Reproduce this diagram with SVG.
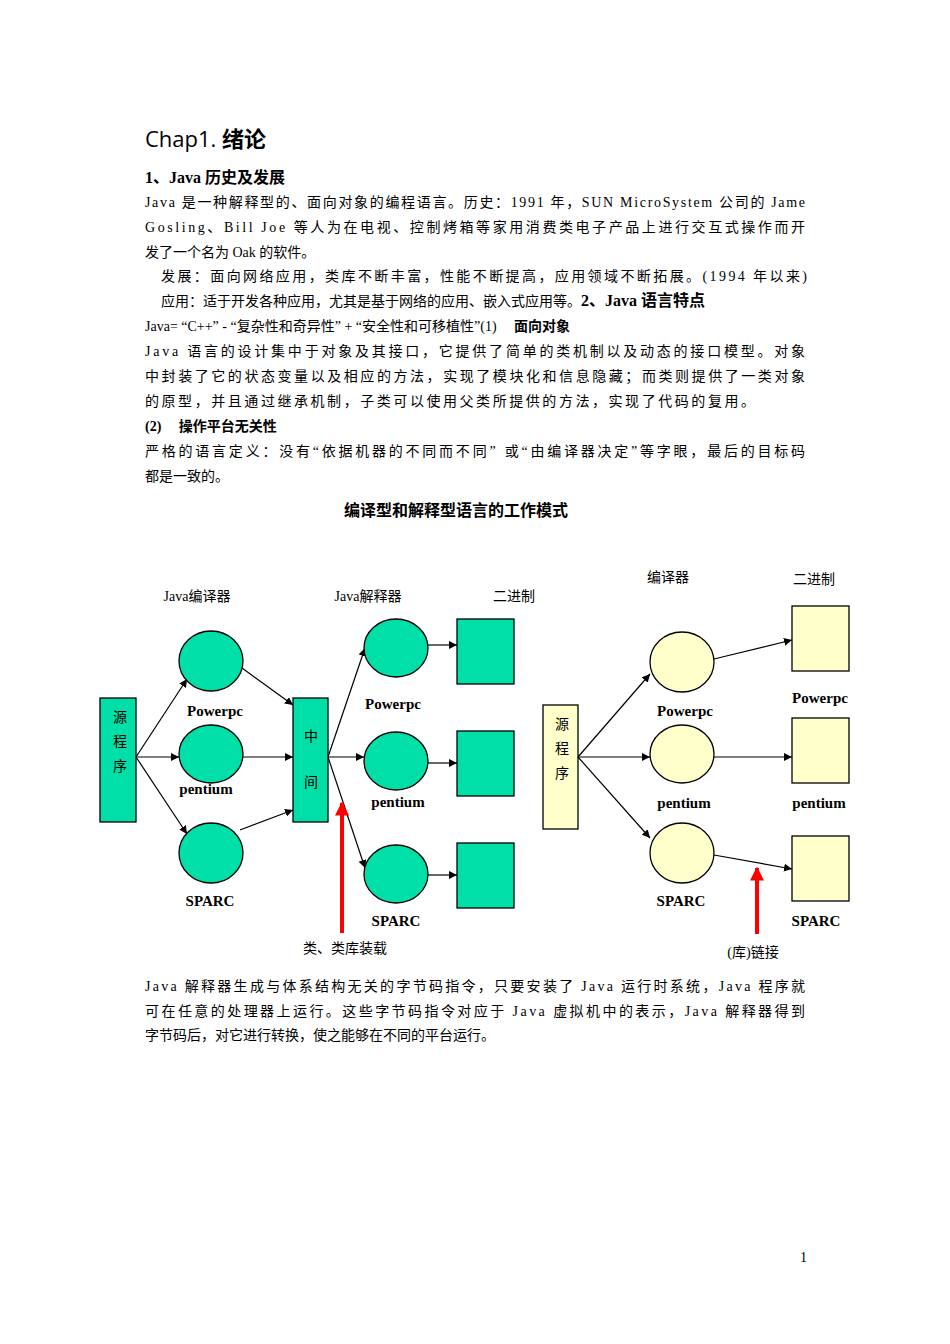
<svg xmlns="http://www.w3.org/2000/svg" width="950" height="1344" viewBox="0 0 950 1344">
<style>
.t{font-family:"Liberation Serif","Noto Sans CJK SC",serif;font-size:14px;fill:#000}
.b{font-family:"Liberation Serif","Noto Sans CJK SC",serif;font-size:16px;font-weight:bold;fill:#000}
.l{font-family:"Liberation Serif",serif;font-size:15px;font-weight:bold;fill:#000;text-anchor:middle}
.c{font-family:"Liberation Serif","Noto Sans CJK SC",serif;font-size:14px;fill:#000;text-anchor:middle}
.g{fill:#00DFA8;stroke:#000;stroke-width:1.3}
.y{fill:#FFFFCC;stroke:#000;stroke-width:1.3}
.e{stroke:#000;stroke-width:1.2;fill:none;marker-end:url(#a)}
.r{stroke:#F00;stroke-width:4;fill:none;marker-end:url(#ra)}
</style>
<defs>
<marker id="a" viewBox="0 0 10 10" refX="10" refY="5" markerWidth="8" markerHeight="8" markerUnits="userSpaceOnUse" orient="auto"><path d="M0,0L10,5L0,10z" fill="#000"/></marker>
<marker id="ra" viewBox="0 0 10 10" refX="9" refY="5" markerWidth="4" markerHeight="3.5" orient="auto"><path d="M0,0L10,5L0,10z" fill="#F00"/></marker>
</defs>
<rect width="950" height="1344" fill="#fff"/>
<text x="145" y="147" font-family="Open Sans,Noto Sans CJK SC,sans-serif" font-size="22" fill="#000">Chap1. <tspan font-weight="bold">绪论</tspan></text>
<text class="b" x="145" y="183">1、Java 历史及发展</text>
<text class="t" x="145" y="207" textLength="660">Java 是一种解释型的、面向对象的编程语言。历史：1991 年，SUN MicroSystem 公司的 Jame</text>
<text class="t" x="145" y="232" textLength="660">Gosling、Bill Joe 等人为在电视、控制烤箱等家用消费类电子产品上进行交互式操作而开</text>
<text class="t" x="145" y="257">发了一个名为 Oak 的软件。</text>
<text class="t" x="161" y="281" textLength="646">发展：面向网络应用，类库不断丰富，性能不断提高，应用领域不断拓展。(1994 年以来)</text>
<text class="t" x="161" y="306">应用：适于开发各种应用，尤其是基于网络的应用、嵌入式应用等。<tspan class="b">2、Java 语言特点</tspan></text>
<text class="t" x="145" y="331">Java= “C++” - “复杂性和奇异性” + “安全性和可移植性”(1)　 <tspan font-weight="bold">面向对象</tspan></text>
<text class="t" x="145" y="356" textLength="660">Java 语言的设计集中于对象及其接口，它提供了简单的类机制以及动态的接口模型。对象</text>
<text class="t" x="145" y="381" textLength="660">中封装了它的状态变量以及相应的方法，实现了模块化和信息隐藏；而类则提供了一类对象</text>
<text class="t" x="145" y="406" textLength="610">的原型，并且通过继承机制，子类可以使用父类所提供的方法，实现了代码的复用。</text>
<text class="t" x="145" y="431" font-weight="bold">(2)　 操作平台无关性</text>
<text class="t" x="145" y="456" textLength="660">严格的语言定义：没有“依据机器的不同而不同” 或“由编译器决定”等字眼，最后的目标码</text>
<text class="t" x="145" y="481">都是一致的。</text>
<text class="b" x="456" y="516" text-anchor="middle">编译型和解释型语言的工作模式</text>

<g id="connectors">
<line class="e" x1="136" y1="757" x2="187" y2="679"/>
<line class="e" x1="136" y1="757" x2="179" y2="757"/>
<line class="e" x1="136" y1="757" x2="187" y2="834"/>
<line class="e" x1="242" y1="668" x2="293" y2="705"/>
<line class="e" x1="243" y1="757" x2="293" y2="757"/>
<line class="e" x1="240" y1="830" x2="293" y2="810"/>
<line class="e" x1="328" y1="757" x2="365" y2="648"/>
<line class="e" x1="328" y1="757" x2="364" y2="757"/>
<line class="e" x1="328" y1="757" x2="365" y2="868"/>
<line class="e" x1="428" y1="645" x2="457" y2="645"/>
<line class="e" x1="428" y1="763" x2="457" y2="763"/>
<line class="e" x1="428" y1="875" x2="457" y2="875"/>
<line class="e" x1="578" y1="757" x2="650" y2="674"/>
<line class="e" x1="578" y1="757" x2="650" y2="757"/>
<line class="e" x1="578" y1="757" x2="650" y2="838"/>
<line class="e" x1="714" y1="659" x2="792" y2="640"/>
<line class="e" x1="714" y1="757" x2="792" y2="757"/>
<line class="e" x1="714" y1="855" x2="792" y2="869"/>
<line class="r" x1="342" y1="933" x2="342" y2="803"/>
<line class="r" x1="757" y1="934" x2="757" y2="868"/>
</g>

<g id="left-src"><rect class="g" x="100" y="698" width="36" height="124"/><text class="c" x="120" y="722">源</text><text class="c" x="120" y="746">程</text><text class="c" x="120" y="771">序</text></g>
<g id="mid"><rect class="g" x="293" y="698" width="35" height="124"/><text class="c" x="311" y="741">中</text><text class="c" x="311" y="787">间</text></g>
<g id="c1"><ellipse class="g" cx="211" cy="661" rx="32" ry="30"/><text class="l" x="215" y="716">Powerpc</text></g>
<g id="c2"><ellipse class="g" cx="211" cy="754" rx="32" ry="29"/><text class="l" x="206" y="794">pentium</text></g>
<g id="c3"><ellipse class="g" cx="211" cy="853" rx="32" ry="30"/><text class="l" x="210" y="906">SPARC</text></g>
<g id="c4"><ellipse class="g" cx="396" cy="648" rx="32" ry="29"/><text class="l" x="393" y="709">Powerpc</text></g>
<g id="c5"><ellipse class="g" cx="396" cy="761" rx="32" ry="29"/><text class="l" x="398" y="807">pentium</text></g>
<g id="c6"><ellipse class="g" cx="396" cy="874" rx="32" ry="29"/><text class="l" x="396" y="926">SPARC</text></g>
<g id="s1"><rect class="g" x="457" y="619" width="57" height="65"/></g>
<g id="s2"><rect class="g" x="457" y="731" width="57" height="65"/></g>
<g id="s3"><rect class="g" x="457" y="843" width="57" height="65"/></g>
<text class="c" x="197" y="601">Java编译器</text>
<text class="c" x="368" y="601">Java解释器</text>
<text class="c" x="514" y="601">二进制</text>
<text class="c" x="345" y="953">类、类库装载</text>

<g id="right-src"><rect class="y" x="543" y="705" width="35" height="124"/><text class="c" x="562" y="729">源</text><text class="c" x="562" y="753">程</text><text class="c" x="562" y="778">序</text></g>
<g id="d1"><ellipse class="y" cx="682" cy="662" rx="32" ry="30"/><text class="l" x="685" y="716">Powerpc</text></g>
<g id="d2"><ellipse class="y" cx="682" cy="754" rx="32" ry="29"/><text class="l" x="684" y="808">pentium</text></g>
<g id="d3"><ellipse class="y" cx="682" cy="853" rx="32" ry="30"/><text class="l" x="681" y="906">SPARC</text></g>
<g id="q1"><rect class="y" x="792" y="606" width="57" height="65"/><text class="l" x="820" y="703">Powerpc</text></g>
<g id="q2"><rect class="y" x="792" y="718" width="57" height="65"/><text class="l" x="819" y="808">pentium</text></g>
<g id="q3"><rect class="y" x="792" y="836" width="57" height="65"/><text class="l" x="816" y="926">SPARC</text></g>
<text class="c" x="668" y="582">编译器</text>
<text class="c" x="814" y="584">二进制</text>
<text class="c" x="753" y="957">(库)链接</text>

<text class="t" x="145" y="991" textLength="660">Java 解释器生成与体系结构无关的字节码指令，只要安装了 Java 运行时系统，Java 程序就</text>
<text class="t" x="145" y="1016" textLength="660">可在任意的处理器上运行。这些字节码指令对应于 Java 虚拟机中的表示，Java 解释器得到</text>
<text class="t" x="145" y="1040">字节码后，对它进行转换，使之能够在不同的平台运行。</text>
<text class="t" x="800" y="1262" font-size="12">1</text>
</svg>
